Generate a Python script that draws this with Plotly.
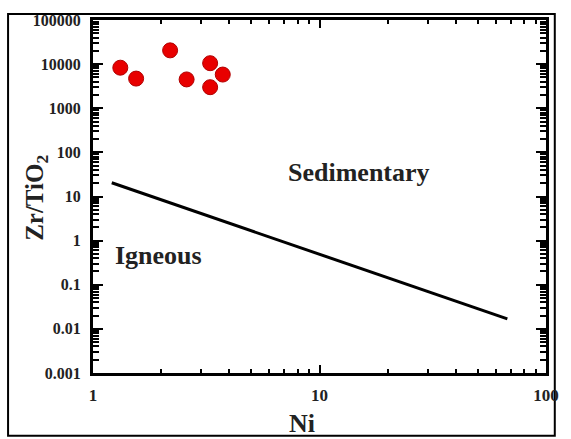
import plotly.graph_objects as go

# Data
ni = [1.32, 1.55, 2.19, 2.59, 3.29, 3.74, 3.29]
zr_tio2 = [8300, 4700, 20500, 4500, 10500, 5800, 3000]

boundary_ni = [1.21, 67.5]
boundary_zr = [20.5, 0.0168]

x_tickvals = [1, 10, 100]
x_ticktext = ["1", "10", "100"]
y_tickvals = [0.001, 0.01, 0.1, 1, 10, 100, 1000, 10000, 100000]
y_ticktext = ["0.001", "0.01", "0.1", "1", "10", "100", "1000", "10000", "100000"]

W, H = 571, 439
L, R, T, B = 93, 557, 13, 373

def px_x(p):
    return (p - L) / (R - L)

def px_y(p):
    return (B - p) / (B - T)

x_minor = [m * 10 ** e for e in range(0, 2) for m in range(2, 10)]
y_minor = [m * 10.0 ** e for e in range(-3, 5) for m in range(2, 10)]

serif = "Liberation Serif, Times New Roman, serif"

fig = go.Figure()
fig.add_trace(go.Scatter(
    x=boundary_ni, y=boundary_zr, mode="lines",
    line=dict(color="black", width=3), showlegend=False, hoverinfo="skip"))
fig.add_trace(go.Scatter(
    x=ni, y=zr_tio2, mode="markers",
    marker=dict(size=15, color="#e80000", line=dict(color="#b00000", width=1)),
    showlegend=False))

fig.update_xaxes(
    type="log", range=[0, 2],
    tickmode="array", tickvals=x_tickvals, ticktext=x_ticktext,
    ticks="inside", ticklen=8, tickwidth=2, tickcolor="black",
    minor=dict(tickmode="array", tickvals=x_minor, ticks="inside", ticklen=4, tickwidth=1.5, tickcolor="black"),
    showline=True, linecolor="black", linewidth=3, mirror="allticks",
    showgrid=False, zeroline=False,
    tickfont=dict(family=serif, size=17, color="#222", weight="bold"),
    ticklabelstandoff=5, ticklabeloverflow="allow",
)
fig.update_yaxes(
    type="log", range=[-3, 5],
    tickmode="array", tickvals=y_tickvals, ticktext=y_ticktext,
    ticks="inside", ticklen=10, tickwidth=2, tickcolor="black",
    minor=dict(tickmode="array", tickvals=y_minor, ticks="inside", ticklen=6, tickwidth=1.5, tickcolor="black"),
    showline=True, linecolor="black", linewidth=3, mirror="allticks",
    showgrid=False, zeroline=False,
    tickfont=dict(family=serif, size=16, color="#222", weight="bold"),
    ticklabelstandoff=6,
)

def label(text, cx, cy, size, angle=0):
    return dict(text=text, xref="paper", yref="paper",
                x=px_x(cx), y=px_y(cy), xanchor="center", yanchor="middle",
                showarrow=False, textangle=angle,
                font=dict(family=serif, size=size, color="#222"))

fig.update_layout(
    width=W, height=H,
    margin=dict(l=L, r=W - R, t=T, b=H - B),
    paper_bgcolor="white", plot_bgcolor="white",
    showlegend=False,
    shapes=[dict(type="rect", xref="paper", yref="paper",
                 x0=px_x(6), x1=px_x(566), y0=px_y(437), y1=px_y(7),
                 line=dict(color="black", width=2), layer="below")],
    annotations=[
        label("<b>Sedimentary</b>", 365, 169, 26),
        label("<b>Igneous</b>", 160, 253, 26),
        label("<b>Ni</b>", 307, 425, 26),
        label("<b>Zr/TiO<sub>2</sub></b>", 35, 194, 25, -90),
    ],
)

fig.write_html("out.html")
